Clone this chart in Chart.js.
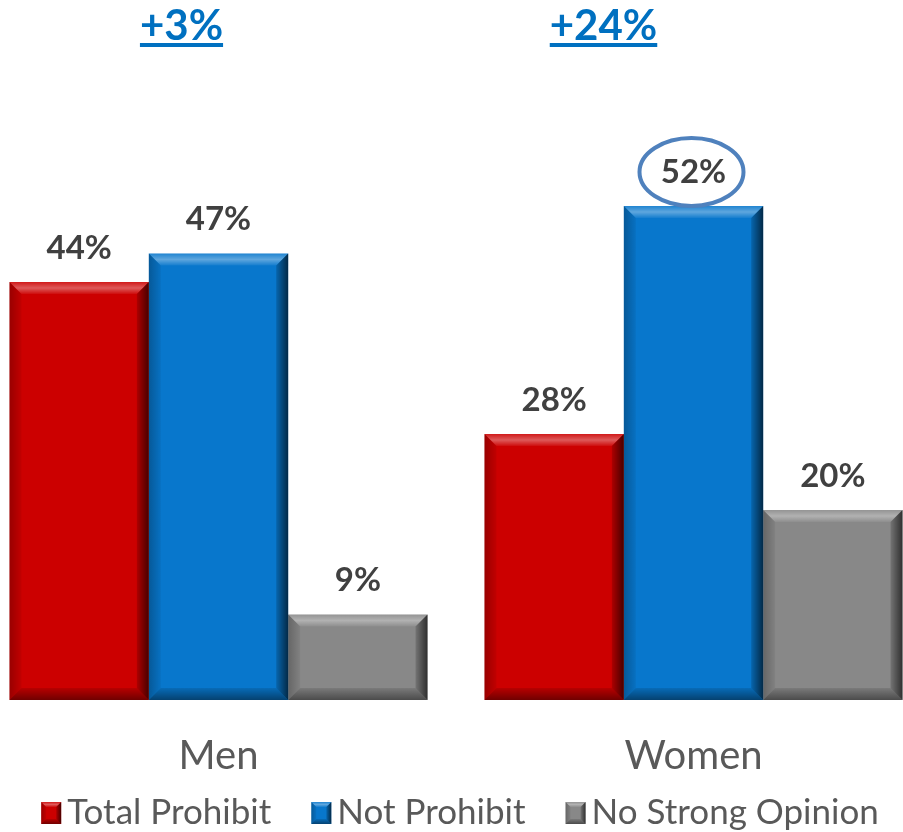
<!DOCTYPE html>
<html>
<head>
<meta charset="utf-8">
<script src="https://cdn.jsdelivr.net/npm/chart.js@4/dist/chart.umd.min.js"></script>
<style>
  html, body { margin: 0; padding: 0; background: #ffffff; overflow: hidden; width: 903px; height: 832px; }
  #wrap { position: absolute; left: -19px; top: 0; width: 950px; height: 832px; }
</style>
</head>
<body>
<div id="wrap"><canvas id="c"></canvas></div>
<script>
const categories = ["Men", "Women"];
const totalProhibit = [44, 28];
const notProhibit = [47, 52];
const noStrongOpinion = [9, 20];
const seriesNames = ["Total Prohibit", "Not Prohibit", "No Strong Opinion"];
const seriesColors = ["#CC0000", "#0877CC", "#888888"];
const gapLabels = ["+3%", "+24%"];

const FONT = "Lato, 'Open Sans', sans-serif";

function drawBevel(ctx, x0, y0, x1, y1, b) {
  ctx.save();
  let g = ctx.createLinearGradient(0, y0, 0, y0 + b);
  g.addColorStop(0, 'rgba(255,255,255,0.10)');
  g.addColorStop(0.5, 'rgba(255,255,255,0.35)');
  g.addColorStop(1, 'rgba(255,255,255,0.05)');
  ctx.fillStyle = g;
  ctx.beginPath();
  ctx.moveTo(x0, y0); ctx.lineTo(x1, y0); ctx.lineTo(x1 - b, y0 + b); ctx.lineTo(x0 + b, y0 + b); ctx.closePath(); ctx.fill();
  g = ctx.createLinearGradient(x0, 0, x0 + b, 0);
  g.addColorStop(0, 'rgba(0,0,0,0.25)');
  g.addColorStop(1, 'rgba(0,0,0,0.05)');
  ctx.fillStyle = g;
  ctx.beginPath();
  ctx.moveTo(x0, y0); ctx.lineTo(x0 + b, y0 + b); ctx.lineTo(x0 + b, y1 - b); ctx.lineTo(x0, y1); ctx.closePath(); ctx.fill();
  g = ctx.createLinearGradient(x1 - b, 0, x1, 0);
  g.addColorStop(0, 'rgba(0,0,0,0.15)');
  g.addColorStop(1, 'rgba(0,0,0,0.65)');
  ctx.fillStyle = g;
  ctx.beginPath();
  ctx.moveTo(x1, y0); ctx.lineTo(x1, y1); ctx.lineTo(x1 - b, y1 - b); ctx.lineTo(x1 - b, y0 + b); ctx.closePath(); ctx.fill();
  g = ctx.createLinearGradient(0, y1 - b, 0, y1);
  g.addColorStop(0, 'rgba(0,0,0,0.10)');
  g.addColorStop(1, 'rgba(0,0,0,0.45)');
  ctx.fillStyle = g;
  ctx.beginPath();
  ctx.moveTo(x0, y1); ctx.lineTo(x0 + b, y1 - b); ctx.lineTo(x1 - b, y1 - b); ctx.lineTo(x1, y1); ctx.closePath(); ctx.fill();
  ctx.restore();
}

const bevelPlugin = {
  id: 'bevel',
  afterDatasetsDraw(chart) {
    const ctx = chart.ctx;
    chart.data.datasets.forEach((ds, di) => {
      const meta = chart.getDatasetMeta(di);
      meta.data.forEach((bar) => {
        const w = bar.width;
        drawBevel(ctx, bar.x - w / 2, Math.min(bar.y, bar.base), bar.x + w / 2, Math.max(bar.y, bar.base), 12);
      });
    });
    ctx.save();
    ctx.font = "bold 33px " + FONT;
    ctx.fillStyle = '#404040';
    ctx.textAlign = 'center';
    ctx.textBaseline = 'middle';
    chart.data.datasets.forEach((ds, di) => {
      const meta = chart.getDatasetMeta(di);
      meta.data.forEach((bar, i) => {
        ctx.fillText(ds.data[i] + '%', bar.x, bar.y - 34);
      });
    });
    const wBar = chart.getDatasetMeta(1).data[1];
    ctx.strokeStyle = '#4F81BD';
    ctx.lineWidth = 4;
    ctx.beginPath();
    ctx.ellipse(wBar.x - 2, wBar.y - 34, 52, 34, 0, 0, Math.PI * 2);
    ctx.stroke();
    const xs = chart.scales.x;
    const offs = [-37, -90];
    ctx.font = "bold 42px " + FONT;
    ctx.fillStyle = '#0070C0';
    ctx.textBaseline = 'alphabetic';
    gapLabels.forEach((t, i) => {
      const cx = xs.getPixelForValue(i) + offs[i];
      ctx.fillText(t, cx, 40);
      const tw = ctx.measureText(t).width;
      ctx.fillRect(cx - tw / 2, 43, tw, 4);
    });
    ctx.restore();

    // legend (drawn from dataset labels/colours)
    ctx.save();
    ctx.font = "35px " + FONT;
    ctx.textBaseline = 'middle';
    ctx.textAlign = 'left';
    const boxW = 20, boxH = 22, tGap = 6, iGap = 40;
    const items = chart.data.datasets.map(ds => ({ label: ds.label, color: ds.backgroundColor, w: ctx.measureText(ds.label).width }));
    let total = 0;
    items.forEach((it, i) => { total += boxW + tGap + it.w + (i < items.length - 1 ? iGap : 0); });
    let x = chart.width / 2 + 4 - total / 2;
    const cy = 813;
    items.forEach((it) => {
      ctx.fillStyle = it.color;
      ctx.fillRect(x, cy - boxH / 2, boxW, boxH);
      drawBevel(ctx, x, cy - boxH / 2, x + boxW, cy + boxH / 2, 5);
      ctx.fillStyle = '#595959';
      ctx.fillText(it.label, x + boxW + tGap, cy);
      x += boxW + tGap + it.w + iGap;
    });
    ctx.restore();
  }
};

new Chart(document.getElementById('c'), {
  type: 'bar',
  data: {
    labels: categories,
    datasets: [
      { label: seriesNames[0], data: totalProhibit, backgroundColor: seriesColors[0] },
      { label: seriesNames[1], data: notProhibit, backgroundColor: seriesColors[1] },
      { label: seriesNames[2], data: noStrongOpinion, backgroundColor: seriesColors[2] }
    ]
  },
  options: {
    responsive: true,
    maintainAspectRatio: false,
    animation: false,
    layout: { padding: { top: 130, bottom: 28, left: 0, right: 0 } },
    datasets: { bar: { categoryPercentage: 0.88, barPercentage: 1.0 } },
    scales: {
      x: {
        grid: { display: false },
        border: { display: false },
        ticks: { font: { family: FONT, size: 40 }, color: '#595959', padding: 24 }
      },
      y: {
        display: false,
        min: 0,
        max: 60
      }
    },
    plugins: {
      legend: { display: false },
      tooltip: { enabled: false }
    }
  },
  plugins: [bevelPlugin]
});
</script>
</body>
</html>
